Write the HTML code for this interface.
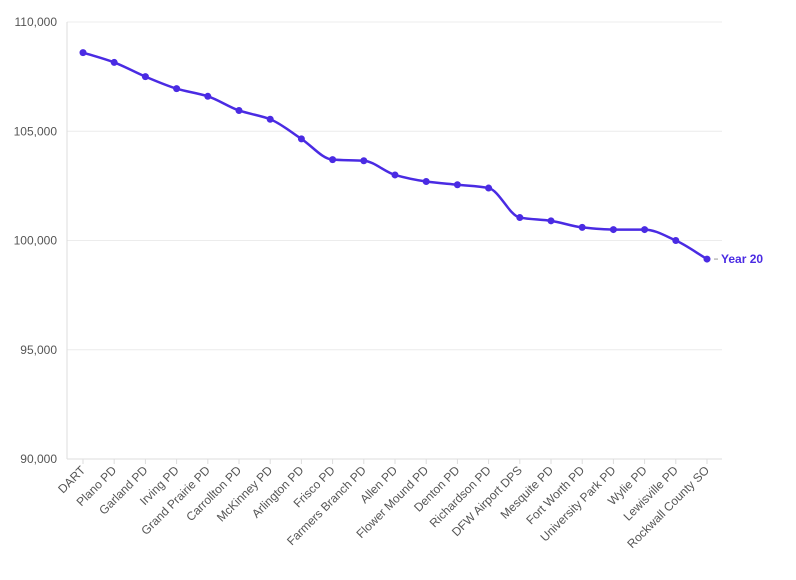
<!DOCTYPE html>
<html><head><meta charset="utf-8"><style>
body{margin:0;background:#fff;font-family:"Liberation Sans",sans-serif}
svg text{font-family:"Liberation Sans",sans-serif}
</style></head><body>
<svg id="chart" width="796" height="575" xmlns="http://www.w3.org/2000/svg">
<g id="grid"></g>
<g id="yaxis"></g>
<g id="xaxis"></g>
<g id="series"></g>
</svg>
<script>
const categories=["DART","Plano PD","Garland PD","Irving PD","Grand Prairie PD","Carrollton PD","McKinney PD","Arlington PD","Frisco PD","Farmers Branch PD","Allen PD","Flower Mound PD","Denton PD","Richardson PD","DFW Airport DPS","Mesquite PD","Fort Worth PD","University Park PD","Wylie PD","Lewisville PD","Rockwall County SO"];
const values=[108600,108150,107500,106950,106600,105950,105550,104650,103700,103650,103000,102700,102550,102400,101050,100900,100600,100500,100500,100000,99150];
const yTicks=[90000,95000,100000,105000,110000];
const seriesName="Year 20";
(function(){
const NS="http://www.w3.org/2000/svg";
const pLeft=67,pRight=722,pTop=22,pBottom=459,yMin=90000,yMax=110000;
const n=categories.length;
const x0=83,x1=707;
function xs(i){return x0+(x1-x0)*i/(n-1);}
function ys(v){return pBottom-(v-yMin)/(yMax-yMin)*(pBottom-pTop);}
function mk(t,a,p){const e=document.createElementNS(NS,t);for(const k in a)e.setAttribute(k,a[k]);p.appendChild(e);return e;}
const grid=document.getElementById('grid'),ya=document.getElementById('yaxis'),xa=document.getElementById('xaxis'),se=document.getElementById('series');
yTicks.forEach(t=>{
 const l=mk('line',{x1:pLeft,x2:pRight,y1:ys(t),y2:ys(t),stroke:'#ececec','stroke-width':1},grid);
 
 
 const tx=mk('text',{x:57,y:ys(t)+4,'text-anchor':'end','font-size':12,fill:'#555'},ya);
 tx.textContent=t.toLocaleString('en-US');
 
 
});
const ax=mk('line',{x1:pLeft,x2:pLeft,y1:pTop,y2:pBottom,stroke:'#ddd'},ya);


const bx=mk('line',{x1:pLeft,x2:pRight,y1:pBottom,y2:pBottom,stroke:'#ddd'},xa);


categories.forEach((c,i)=>{
 const x=xs(i);
 const tk=mk('line',{x1:x,x2:x,y1:pBottom,y2:pBottom+5,stroke:'#ddd'},xa);
 
 
 const t=mk('text',{x:x+3,y:pBottom+12,'text-anchor':'end','font-size':12,fill:'#555',transform:`rotate(-45 ${x+3} ${pBottom+12})`},xa);
 t.textContent=c;
 
 
});
const P=values.map((v,i)=>[xs(i),ys(v)]);
const m=[],d=[];
for(let i=0;i<n-1;i++)d.push((P[i+1][1]-P[i][1])/(P[i+1][0]-P[i][0]));
for(let i=0;i<n;i++){
 if(i==0)m.push(d[0]);else if(i==n-1)m.push(d[n-2]);
 else m.push(d[i-1]*d[i]<=0?0:(2*d[i-1]*d[i])/(d[i-1]+d[i]));
}
let pd=`M${P[0][0]},${P[0][1]}`;
for(let i=0;i<n-1;i++){
 const h=(P[i+1][0]-P[i][0])/3;
 pd+=`C${P[i][0]+h},${P[i][1]+m[i]*h} ${P[i+1][0]-h},${P[i+1][1]-m[i+1]*h} ${P[i+1][0]},${P[i+1][1]}`;
}
const path=mk('path',{d:pd,fill:'none',stroke:'#4a2be3','stroke-width':2.5},se);


P.forEach(p=>{
 const c=mk('circle',{cx:p[0],cy:p[1],r:3.5,fill:'#4a2be3'},se);
 
 
});
const last=P[n-1];
const dl=mk('line',{x1:last[0]+7,x2:last[0]+11,y1:last[1],y2:last[1],stroke:'#999'},se);


const lb=mk('text',{x:last[0]+14,y:last[1]+4,'font-size':12,'font-weight':'bold',fill:'#4a2be3'},se);
lb.textContent=seriesName;


})();
</script>
</body></html>
